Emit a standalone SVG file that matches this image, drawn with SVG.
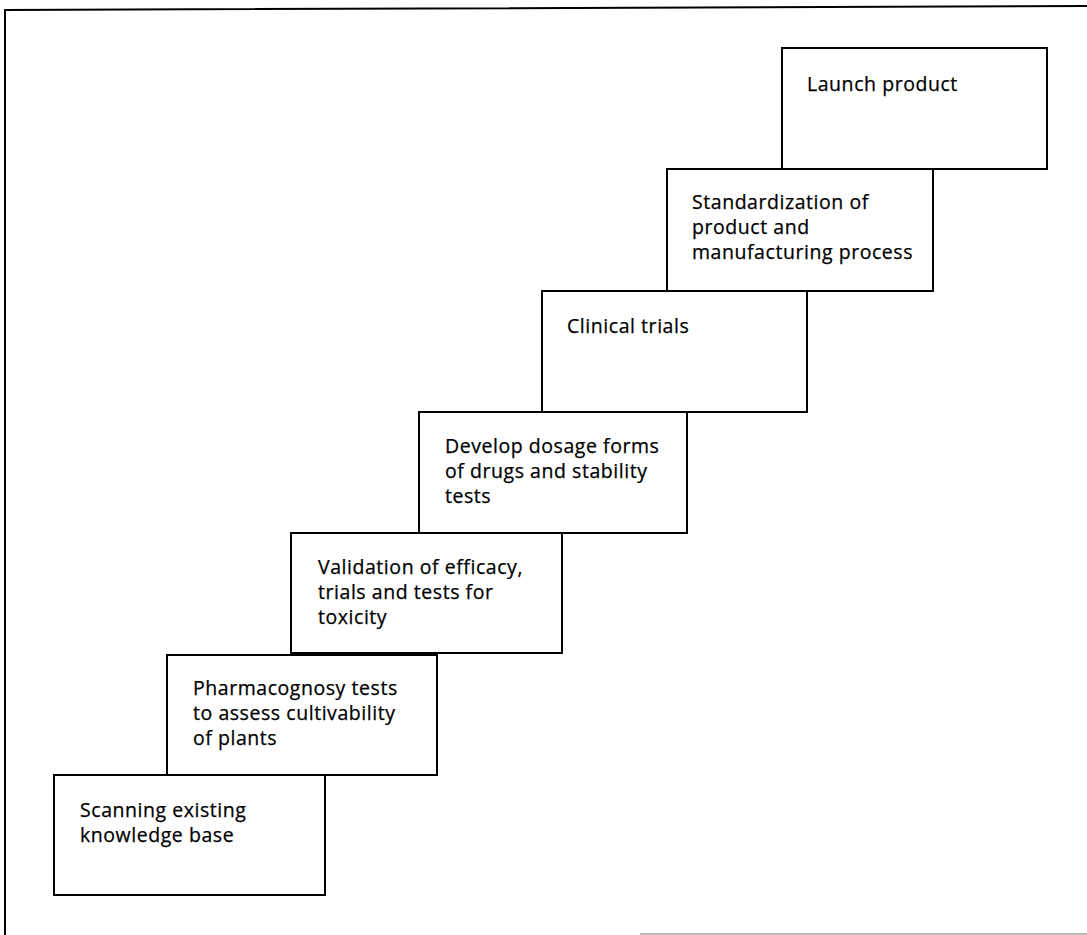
<svg xmlns="http://www.w3.org/2000/svg" width="1087" height="935" viewBox="0 0 1087 935">
  <style>
    .frame { fill: none; stroke: #000; stroke-width: 2; }
    .faint { fill: none; stroke: #bbb; stroke-width: 2; }
    .box { fill: #fff; stroke: #000; stroke-width: 2; }
    .label { font-family: "Open Sans", "Noto Sans", sans-serif; font-size: 19.5px; fill: #000; stroke: #000; stroke-width: 0.25; letter-spacing: 0.55px; }
  </style>
  <rect width="1087" height="935" fill="#fff"/>
  <!-- outer frame: left and top edges, faint bottom edge on the right -->
  <path class="frame" d="M5,935 V10 L1087,6"/>
  <line class="faint" x1="640" y1="934" x2="1087" y2="934"/>

  <g id="connectors"/>

  <!-- staircase of steps, bottom to top -->
  <g id="step-scanning">
    <rect class="box" x="54" y="775" width="271" height="120"/>
    <text class="label" x="80" y="817">
      <tspan x="80">Scanning existing</tspan>
      <tspan x="80" dy="25">knowledge base</tspan>
    </text>
  </g>
  <g id="step-pharmacognosy">
    <rect class="box" x="167" y="655" width="270" height="120"/>
    <text class="label" x="193" y="695">
      <tspan x="193">Pharmacognosy tests</tspan>
      <tspan x="193" dy="25">to assess cultivability</tspan>
      <tspan x="193" dy="25">of plants</tspan>
    </text>
  </g>
  <g id="step-validation">
    <rect class="box" x="291" y="533" width="271" height="120"/>
    <text class="label" x="318" y="574">
      <tspan x="318">Validation of efficacy,</tspan>
      <tspan x="318" dy="25">trials and tests for</tspan>
      <tspan x="318" dy="25">toxicity</tspan>
    </text>
  </g>
  <g id="step-dosage">
    <rect class="box" x="419" y="412" width="268" height="121"/>
    <text class="label" x="445" y="453">
      <tspan x="445">Develop dosage forms</tspan>
      <tspan x="445" dy="25">of drugs and stability</tspan>
      <tspan x="445" dy="25">tests</tspan>
    </text>
  </g>
  <g id="step-clinical">
    <rect class="box" x="542" y="291" width="265" height="121"/>
    <text class="label" x="567" y="333">Clinical trials</text>
  </g>
  <g id="step-standardization">
    <rect class="box" x="667" y="169" width="266" height="122"/>
    <text class="label" x="692" y="209">
      <tspan x="692">Standardization of</tspan>
      <tspan x="692" dy="25">product and</tspan>
      <tspan x="692" dy="25">manufacturing process</tspan>
    </text>
  </g>
  <g id="step-launch">
    <rect class="box" x="782" y="48" width="265" height="121"/>
    <text class="label" x="807" y="91">Launch product</text>
  </g>
</svg>
